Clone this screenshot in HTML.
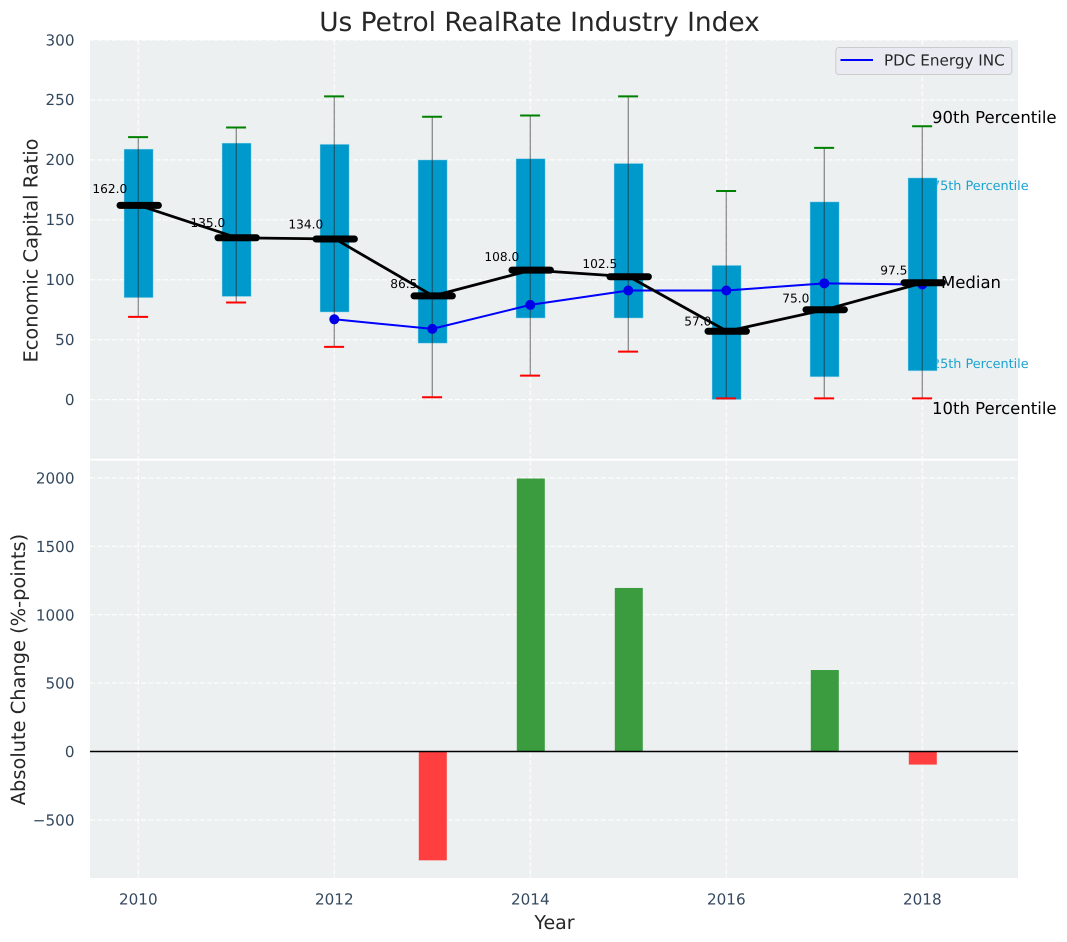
<!DOCTYPE html>
<html>
<head>
<meta charset="utf-8">
<title>Us Petrol RealRate Industry Index</title>
<style>
html,body{margin:0;padding:0;background:#fff;}
#chart{display:block;position:absolute;left:0;top:0;font-family:"DejaVu Sans","Liberation Sans",sans-serif;text-rendering:geometricPrecision;}
</style>
</head>
<body>
<svg id="chart" width="1067" height="942" viewBox="0 0 1067 942" xmlns="http://www.w3.org/2000/svg">
  <rect x="0" y="0" width="1067" height="942" fill="#ffffff"/>
  <rect x="90" y="40" width="928" height="418.7" fill="#ecf0f1"/>
  <rect x="90" y="460.7" width="928" height="417.3" fill="#ecf0f1"/>
  <g id="upper-grid"></g>
  <g id="lower-grid"></g>
  <text x="932" y="190" font-size="12.8" fill="#1aa3d1">75th Percentile</text>
  <text x="932" y="368" font-size="12.8" fill="#1aa3d1">25th Percentile</text>
  <g id="boxes"></g>
  <g id="whiskers"></g>
  <g id="pdc"></g>
  <g id="medians"></g>
  <g id="bars"></g>
  <g id="ticks"></g>
  <text x="539.5" y="31" font-size="26.4" fill="#262626" text-anchor="middle">Us Petrol RealRate Industry Index</text>
  <text x="0" y="0" font-size="19.4" fill="#262626" text-anchor="middle" transform="translate(37.5 250.5) rotate(-90)">Economic Capital Ratio</text>
  <text x="0" y="0" font-size="19.4" fill="#262626" text-anchor="middle" transform="translate(25 669.5) rotate(-90)">Absolute Change (%-points)</text>
  <text x="554.5" y="929" font-size="19" fill="#262626" text-anchor="middle">Year</text>
  <text x="932" y="123" font-size="16.5" fill="#000000">90th Percentile</text>
  <text x="941" y="288" font-size="16.5" fill="#000000">Median</text>
  <text x="932" y="414" font-size="16.5" fill="#000000">10th Percentile</text>
  <g>
    <rect x="835.8" y="47.5" width="176" height="27" rx="3" fill="#eaeaf2" stroke="#cccccc" stroke-width="1"/>
    <line x1="840.5" x2="873" y1="60" y2="60" stroke="#0000ff" stroke-width="2"/>
    <text x="884" y="65.5" font-size="15.2" fill="#262626">PDC Energy INC</text>
  </g>
</svg>
<script>
const years = [2010, 2011, 2012, 2013, 2014, 2015, 2016, 2017, 2018];
const p90 = [219, 227, 253, 236, 237, 253, 174, 210, 228];
const p75 = [209, 214, 213, 200, 201, 197, 112, 165, 185];
const median = [162, 135, 134, 86.5, 108, 102.5, 57, 75, 97.5];
const p25 = [85, 86, 73, 47, 68, 68, 0, 19, 24];
const p10 = [69, 81, 44, 2, 20, 40, 1, 1, 1];
const pdcEnergy = [null, null, 67, 59, 79, 91, 91, 97, 96];
const absoluteChange = [0, 0, 0, -800, 2000, 1200, 0, 600, -100];
const upperTicks = [0, 50, 100, 150, 200, 250, 300];
const lowerTicks = [-500, 0, 500, 1000, 1500, 2000];
const xTicks = [2010, 2012, 2014, 2016, 2018];

const NS = 'http://www.w3.org/2000/svg';
function xPos(v) { return 138.3 + (v - 2010) * 98; }
function yUpper(v) { return 399.6 - v * 1.1987; }
function yLower(v) { return 751.5 - v * 0.1368; }
function make(parentId, tag, attrs, text) {
  const el = document.createElementNS(NS, tag);
  Object.keys(attrs).forEach(function (k) { el.setAttribute(k, attrs[k]); });
  if (text !== undefined) el.textContent = text;
  document.getElementById(parentId).appendChild(el);
  return el;
}
const gridStyle = { stroke: '#ffffff', 'stroke-width': 1.2, 'stroke-dasharray': '5.1 2.2', 'stroke-opacity': 0.9 };
function gridAttrs(x1, x2, y1, y2) {
  return Object.assign({ x1: x1, x2: x2, y1: y1, y2: y2 }, gridStyle);
}

upperTicks.forEach(function (t) {
  const line = make('upper-grid', 'line', gridAttrs(90, 1018, yUpper(t), yUpper(t)));
  
  
  const label = make('ticks', 'text', { x: 74.5, y: yUpper(t) + 5.3, 'font-size': 15.2, fill: '#34495e', 'text-anchor': 'end' }, String(t));
  
  
});
lowerTicks.forEach(function (t) {
  const line = make('lower-grid', 'line', gridAttrs(90, 1018, yLower(t), yLower(t)));
  
  
  const label = make('ticks', 'text', { x: 74.5, y: yLower(t) + 5.6, 'font-size': 15.2, fill: '#34495e', 'text-anchor': 'end' }, String(t).replace('-', '\u2212'));
  
  
});
xTicks.forEach(function (t) {
  const upper = make('upper-grid', 'line', gridAttrs(xPos(t), xPos(t), 40, 458.7));
  
  
  const lower = make('lower-grid', 'line', gridAttrs(xPos(t), xPos(t), 460.7, 878));
  
  
  const label = make('ticks', 'text', { x: xPos(t), y: 904.5, 'font-size': 15.2, fill: '#34495e', 'text-anchor': 'middle' }, String(t));
  
  
});

years.forEach(function (yr, i) {
  const cx = xPos(yr);
  const box = make('boxes', 'rect', { x: cx - 14.3, y: yUpper(p75[i]), width: 29.2, height: yUpper(p25[i]) - yUpper(p75[i]), fill: '#0099cc', stroke: '#b8e2f0', 'stroke-opacity': 0.6, 'stroke-width': 0.8 });
  
  
  const whisker = make('whiskers', 'line', { x1: cx, x2: cx, y1: yUpper(p10[i]), y2: yUpper(p90[i]), stroke: '#262626', 'stroke-opacity': 0.5, 'stroke-width': 1.3 });
  
  
  const capHigh = make('whiskers', 'line', { x1: cx - 10.2, x2: cx + 9.8, y1: yUpper(p90[i]), y2: yUpper(p90[i]), stroke: '#008000', 'stroke-width': 2 });
  
  
  const capLow = make('whiskers', 'line', { x1: cx - 10.2, x2: cx + 9.8, y1: yUpper(p10[i]), y2: yUpper(p10[i]), stroke: '#ff0000', 'stroke-width': 2 });
  
  
});

const pdcPoints = [];
years.forEach(function (yr, i) {
  if (pdcEnergy[i] !== null) pdcPoints.push(xPos(yr) + ',' + yUpper(pdcEnergy[i]));
});
const pdcLine = make('pdc', 'polyline', { points: pdcPoints.join(' '), fill: 'none', stroke: '#0000ff', 'stroke-width': 2 });


years.forEach(function (yr, i) {
  if (pdcEnergy[i] === null) return;
  const dot = make('pdc', 'circle', { cx: xPos(yr), cy: yUpper(pdcEnergy[i]), r: 5, fill: '#0000e6' });
  
  
});

const medianLine = make('medians', 'polyline', { points: years.map(function (yr, i) { return (xPos(yr) + 0.8) + ',' + yUpper(median[i]); }).join(' '), fill: 'none', stroke: '#000000', 'stroke-width': 2.8 });


years.forEach(function (yr, i) {
  const cx = xPos(yr) + 0.9;
  const mark = make('medians', 'line', { x1: cx - 19.2, x2: cx + 19.2, y1: yUpper(median[i]), y2: yUpper(median[i]), stroke: '#000000', 'stroke-width': 7, 'stroke-linecap': 'round' });
  
  
  const value = make('medians', 'text', { x: xPos(yr) - 28.5, y: yUpper(median[i] * 1.05) - 2.5, 'font-size': 12.2, fill: '#000000', 'text-anchor': 'middle' }, median[i].toFixed(1));
  
  
});

years.forEach(function (yr, i) {
  if (absoluteChange[i] === 0) return;
  const v = absoluteChange[i];
  const top = Math.min(yLower(v), yLower(0));
  const bar = make('bars', 'rect', { x: xPos(yr) - 13.5, y: top + (v > 0 ? 0.6 : 0), width: 28, height: Math.abs(yLower(v) - yLower(0)) - 0.6, fill: v > 0 ? '#3a9c3f' : '#ff3f3f' });
  
  
});
const zeroLine = make('bars', 'line', { x1: 90, x2: 1018, y1: yLower(0), y2: yLower(0), stroke: '#000000', 'stroke-width': 1.4 });


</script>
</body>
</html>
